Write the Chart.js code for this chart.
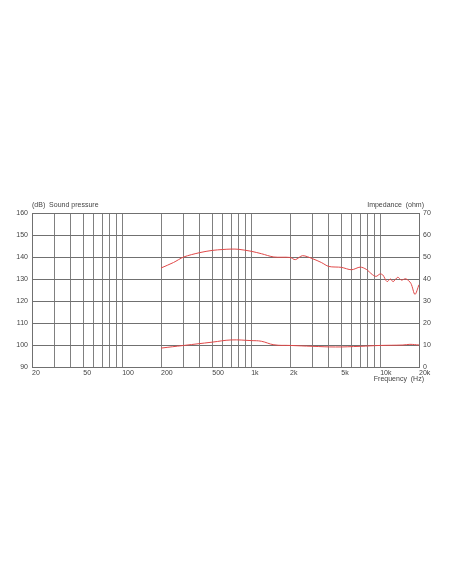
<!DOCTYPE html>
<html>
<head>
<meta charset="utf-8">
<script src="https://cdn.jsdelivr.net/npm/chart.js@4"></script>
<style>
  html, body { margin:0; padding:0; background:#fff; }
  #wrap { width:452px; height:584px; }
</style>
</head>
<body>
<div id="wrap"><canvas id="fr" width="452" height="584"></canvas></div>
<script>
// sound pressure (dB)
var splFreq = [200, 250, 300, 400, 500, 600, 700, 800, 1000, 1200, 1500, 2000, 2200, 2500, 3000, 3500, 4000, 5000, 6000, 7000, 7800, 8700, 9300, 10000, 10500, 11300, 12000, 12600, 13700, 14600, 15800, 17300, 18600, 20000];
var splDb = [135, 137.5, 140, 142, 143, 143.4, 143.6, 143.5, 142.6, 141.5, 140, 139.8, 138.8, 140.6, 139.2, 137.5, 135.7, 135.3, 134.2, 135.4, 134.4, 132, 131.2, 132.3, 131.8, 128.8, 130, 128.8, 130.8, 129.5, 130.1, 128, 123, 127.4];
// impedance (ohm)
var impFreq = [200, 300, 500, 700, 1000, 1200, 1500, 2000, 3000, 4500, 7000, 10000, 15000, 17000, 20000];
var impOhm = [8.6, 9.8, 11.3, 12.3, 12, 11.7, 10.1, 9.8, 9.4, 9.1, 9.4, 9.8, 10, 10.3, 10];
// grid lines and labelled ticks on the frequency axis
var freqGrid = [20, 30, 40, 50, 60, 70, 80, 90, 100, 200, 300, 400, 500, 600, 700, 800, 900, 1000, 2000, 3000, 4000, 5000, 6000, 7000, 8000, 9000, 10000, 20000];
var freqLabels = {20:'20', 50:'50', 100:'100', 200:'200', 500:'500', 1000:'1k', 2000:'2k', 5000:'5k', 10000:'10k', 20000:'20k'};

function pts(xs, ys) {
	return xs.map(function(x, i){ return {x:x, y:ys[i]}; });
}

var red = '#e04848';
var txt = '#444';
var tickFont = {family:'"Liberation Sans", Arial, sans-serif', size:7};

var titles = {
	id:'titles',
	afterDraw: function(chart){
		var c = chart.ctx, a = chart.chartArea;
		c.save();
		c.fillStyle = txt;
		c.font = '7px "Liberation Sans", Arial, sans-serif';
		c.textBaseline = 'middle';
		c.textAlign = 'left';
		c.fillText('(dB)  Sound pressure', a.left, 205);
		c.textAlign = 'right';
		c.fillText('Impedance  (ohm)', a.right + 5, 205);
		c.fillText('Frequency  (Hz)', a.right + 5, 379);
		c.restore();
	}
};

new Chart(document.getElementById('fr'), {
	type:'line',
	data:{
		datasets:[
			{data:pts(splFreq, splDb), borderColor:red, borderWidth:1, pointRadius:0, tension:0.3, yAxisID:'y'},
			{data:pts(impFreq, impOhm), borderColor:red, borderWidth:1, pointRadius:0, tension:0.4, yAxisID:'y2'}
		]
	},
	options:{
		responsive:false,
		animation:false,
		layout:{padding:{top:213, left:0, right:0, bottom:0}},
		plugins:{legend:{display:false}, tooltip:{enabled:false}},
		scales:{
			x:{
				type:'logarithmic', min:20, max:20000,
				afterBuildTicks:function(s){ s.ticks = freqGrid.map(function(v){ return {value:v}; }); },
				afterFit:function(s){ s.height = 217; },
				grid:{color:'#808080', lineWidth:1, drawTicks:false},
				border:{color:'#707070'},
				ticks:{autoSkip:false, maxRotation:0, padding:2, align:'start', color:txt, font:tickFont,
					callback:function(v){ return freqLabels[v] || ''; }}
			},
			y:{
				position:'left', min:90, max:160,
				afterFit:function(s){ s.width = 32; },
				grid:{color:'#707070', lineWidth:1, drawTicks:false},
				border:{color:'#707070'},
				ticks:{stepSize:10, padding:4, color:txt, font:tickFont}
			},
			y2:{
				position:'right', min:0, max:70,
				afterFit:function(s){ s.width = 33; },
				grid:{display:false, drawTicks:false},
				border:{color:'#707070'},
				ticks:{stepSize:10, padding:4, color:txt, font:tickFont}
			}
		}
	},
	plugins:[titles]
});
</script>
</body>
</html>
